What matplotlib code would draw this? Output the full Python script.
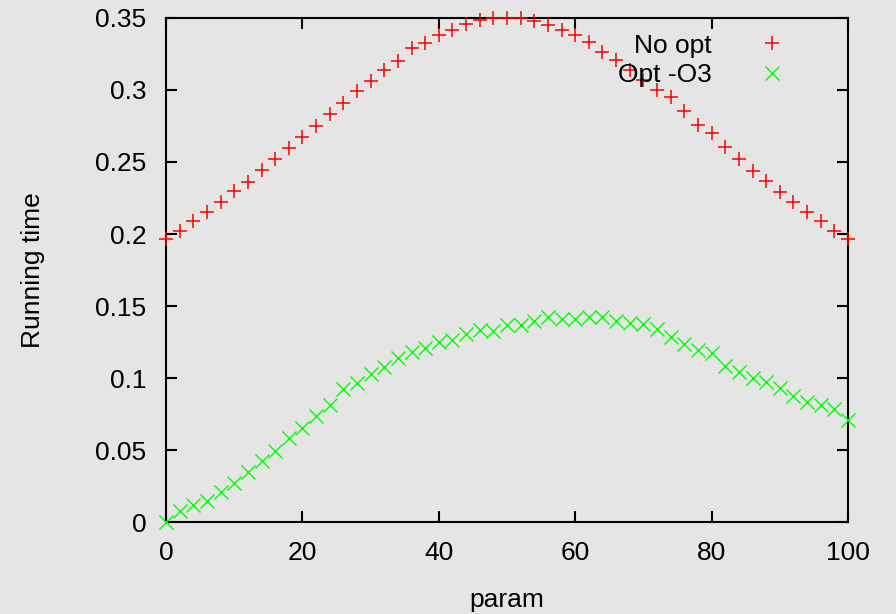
import numpy as np, matplotlib
matplotlib.use('Agg')
import matplotlib.pyplot as plt

plt.rcParams.update({'font.family': ['Liberation Sans', 'DejaVu Sans'], 'font.size': 19})

param = np.arange(0, 101, 2)
no_opt = [0.1963, 0.2023, 0.2088, 0.2153, 0.2222, 0.2299, 0.2361, 0.2442, 0.2523, 0.2597,
          0.2674, 0.2752, 0.2836, 0.2912, 0.2993, 0.3063, 0.3139, 0.3199, 0.3294, 0.3329,
          0.3384, 0.3419, 0.3456, 0.3488, 0.3500, 0.3500, 0.3500, 0.3477, 0.3454, 0.3417,
          0.3382, 0.3336, 0.3266, 0.3208, 0.3139, 0.3069, 0.3000, 0.2949, 0.2856, 0.2757,
          0.2704, 0.2602, 0.2519, 0.2440, 0.2368, 0.2294, 0.2220, 0.2155, 0.2090, 0.2023,
          0.1963]
opt_o3 = [0.0000, 0.0079, 0.0120, 0.0148, 0.0208, 0.0273, 0.0347, 0.0421, 0.0493, 0.0586,
          0.0653, 0.0734, 0.0813, 0.0921, 0.0963, 0.1030, 0.1079, 0.1137, 0.1178, 0.1206,
          0.1250, 0.1264, 0.1306, 0.1333, 0.1329, 0.1368, 0.1368, 0.1398, 0.1421, 0.1408,
          0.1408, 0.1421, 0.1426, 0.1396, 0.1380, 0.1375, 0.1338, 0.1282, 0.1236, 0.1194,
          0.1171, 0.1085, 0.1044, 0.0998, 0.0972, 0.0928, 0.0877, 0.0836, 0.0813, 0.0782,
          0.0708]
xticks = [0, 20, 40, 60, 80, 100]
yticks = [0, 0.05, 0.1, 0.15, 0.2, 0.25, 0.3, 0.35]
ylabels = ['0', '0.05', '0.1', '0.15', '0.2', '0.25', '0.3', '0.35']

bg = '#e5e5e5'
fig = plt.figure(figsize=(8.96, 6.14), dpi=100, facecolor=bg)
ax = fig.add_axes([0.1853, 0.1498, 0.7611, 0.8209], facecolor=bg)

ax.plot(param, no_opt, ls='none', marker='+', ms=10, mew=1.1, color='#ff0000',
        label='No opt', clip_on=False, zorder=3)
ax.plot(param, opt_o3, ls='none', marker='x', ms=9.5, mew=1.0, color='#00ff00',
        label='Opt -O3', clip_on=False, zorder=3)

ax.set_xlim(0, 100); ax.set_ylim(0, 0.35)
ax.set_xticks(xticks); ax.set_xticklabels([str(v) for v in xticks])
ax.set_yticks(yticks); ax.set_yticklabels(ylabels)
ax.tick_params(direction='in', length=8, width=1.5, top=True, right=True, pad=14)
for s in ax.spines.values():
    s.set_linewidth(1.5)
ax.set_xlabel('param', labelpad=16)
ax.set_ylabel('Running time', labelpad=36)

# gnuplot-style key: text right-aligned, sample after it
ax.legend(loc='upper right', bbox_to_anchor=(0.9076, 0.969), frameon=False,
          markerfirst=False, numpoints=1, handlelength=1.0, handletextpad=1.77,
          borderpad=0, borderaxespad=0, labelspacing=0.2)

fig.savefig('out.png', dpi=100, facecolor=bg)
